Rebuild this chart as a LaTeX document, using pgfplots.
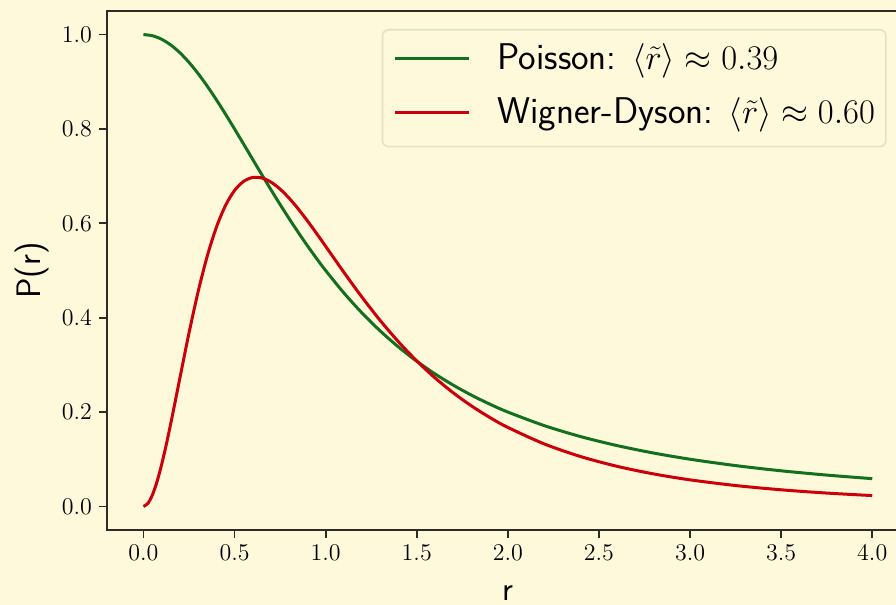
\documentclass[border=0pt]{standalone}
\usepackage{pgfplots}
\pgfplotsset{compat=1.18}
\definecolor{bg}{HTML}{FFF9DC}
\definecolor{spine}{HTML}{2E2A24}
\definecolor{poisson}{HTML}{13701F}
\definecolor{wd}{HTML}{CC0008}
\definecolor{legedge}{HTML}{E6DFC4}

\begin{document}
\begin{tikzpicture}
\fill[bg] (-53.5pt,-37.5pt) rectangle (394.5pt,265pt);
\begin{axis}[
    scale only axis,
    width=400.84pt, height=259.5pt,
    xmin=-0.2, xmax=4.2, ymin=-0.05, ymax=1.05,
    xtick={0,0.5,...,4}, ytick={0,0.2,...,1},
    tick align=outside,
    major tick length=4pt,
    every tick/.style={spine, line width=0.9pt},
    axis line style={spine, line width=1pt},
    xtick pos=bottom, ytick pos=left,
    /pgf/number format/.cd, fixed, fixed zerofill, precision=1, /pgfplots/.cd,
    tick label style={font=\fontsize{11.5}{12}\selectfont},
    xlabel={r}, ylabel={P(r)},
    label style={font=\sffamily\fontsize{17}{19}\selectfont},
    xlabel style={at={(axis description cs:0.5,0)}, anchor=base, inner sep=0pt, yshift=-35.5pt},
    ylabel style={at={(axis description cs:-0.094,0.5)}, anchor=center, inner sep=0pt},
    legend cell align=left,
    legend image code/.code={\draw[#1] (0pt,1.5pt) -- (37pt,1.5pt); \path (50.5pt,1.5pt);},
    legend style={at={(rel axis cs:1,1)}, anchor=north east, xshift=-11pt, yshift=-9pt,
        draw=legedge, line width=0.8pt, fill=bg, rounded corners=3pt,
        font=\sffamily\fontsize{18.6}{21}\selectfont,
        inner xsep=5.5pt, inner ysep=6.5pt, row sep=8.6pt,
        nodes={inner sep=0pt, text height=13.6pt, text depth=4.8pt}},
]
\addplot[poisson, line width=1.5pt, smooth] coordinates {
(0,1) (0.05,0.99751) (0.1,0.990099) (0.15,0.977995) (0.2,0.961538)
(0.25,0.941176) (0.3,0.917431) (0.35,0.890869) (0.4,0.862069) (0.45,0.831601)
(0.5,0.8) (0.55,0.767754) (0.6,0.735294) (0.65,0.702988) (0.7,0.671141)
(0.75,0.64) (0.8,0.609756) (0.85,0.580552) (0.9,0.552486) (0.95,0.525624)
(1.0,0.5) (1.1,0.452489) (1.2,0.409836) (1.3,0.371747) (1.4,0.337838)
(1.5,0.307692) (1.6,0.280899) (1.7,0.257069) (1.8,0.235849) (1.9,0.216920)
(2.0,0.2) (2.2,0.171233) (2.4,0.147929) (2.6,0.128866) (2.8,0.113122)
(3.0,0.1) (3.25,0.086486) (3.5,0.075472) (3.75,0.066390) (4.0,0.058824)
};
\addlegendentry{Poisson: $\langle\tilde r\rangle \approx 0.39$}
\addplot[wd, line width=1.5pt, smooth] coordinates {
(0,0) (0.025,0.006625) (0.05,0.025076) (0.075,0.05322) (0.1,0.088988)
(0.125,0.13043) (0.15,0.17577) (0.175,0.22343) (0.2,0.27200) (0.25,0.36739)
(0.3,0.45488) (0.35,0.53017) (0.4,0.59117) (0.45,0.63743) (0.5,0.66958)
(0.55,0.68895) (0.6,0.69719) (0.65,0.69606) (0.7,0.68730) (0.75,0.67252)
(0.8,0.65312) (0.85,0.63036) (0.9,0.60527) (0.95,0.57869) (1.0,0.55133)
(1.1,0.49630) (1.2,0.44324) (1.3,0.39381) (1.4,0.34880) (1.5,0.30840)
(1.6,0.27254) (1.7,0.24088) (1.8,0.21308) (1.9,0.18872) (2.0,0.16740)
(2.2,0.13242) (2.4,0.10559) (2.6,0.084908) (2.8,0.068851) (3.0,0.056289)
(3.25,0.044246) (3.5,0.035183) (3.75,0.028281) (4.0,0.022961)
};
\addlegendentry{Wigner-Dyson: $\langle\tilde r\rangle \approx 0.60$}
\end{axis}
\pgfresetboundingbox
\path[use as bounding box] (-53.5pt,-37.5pt) rectangle (394.5pt,265pt);
\end{tikzpicture}
\end{document}
